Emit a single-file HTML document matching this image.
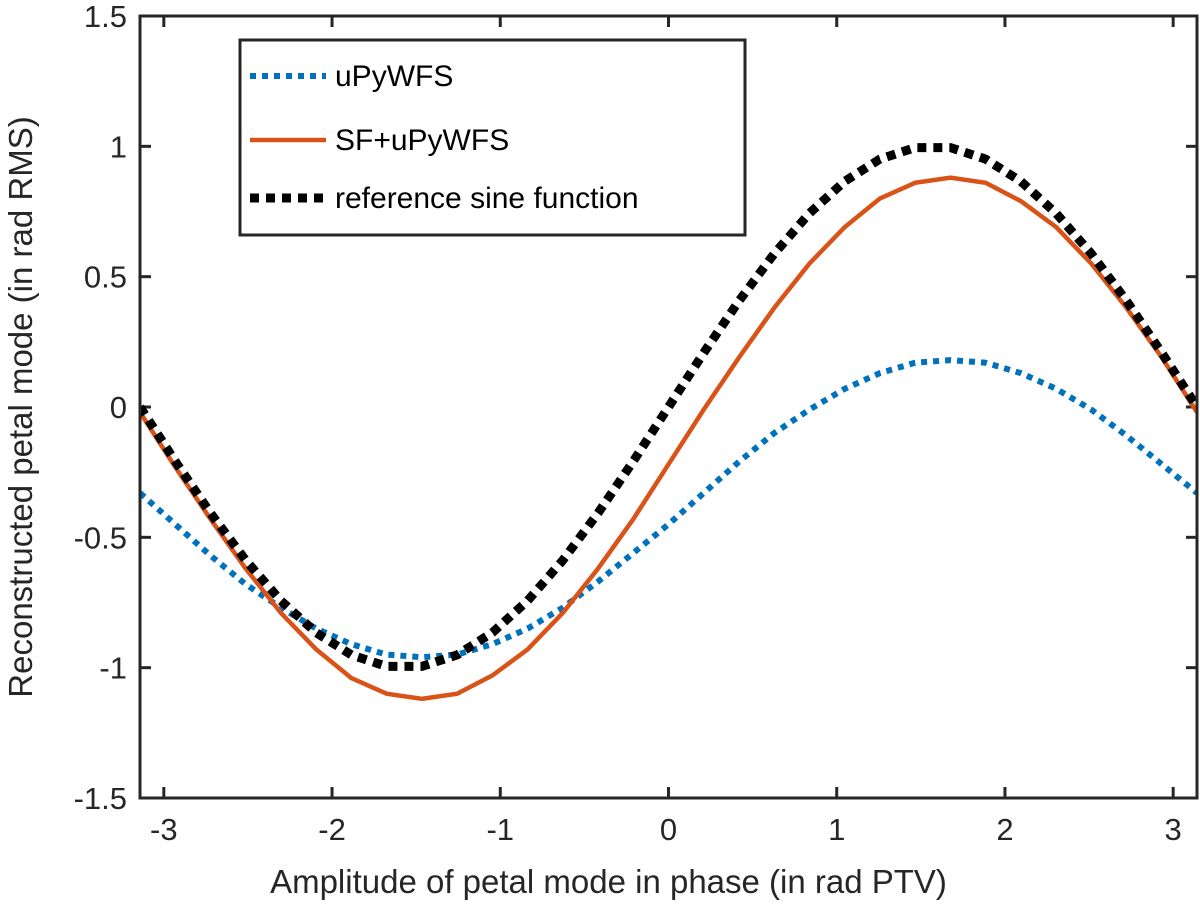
<!DOCTYPE html>
<html><head><meta charset="utf-8"><style>
body{margin:0;background:#fff;}
svg{display:block;font-family:"Liberation Sans",sans-serif;}
</style></head><body>
<svg id="chart" width="1200" height="911" xmlns="http://www.w3.org/2000/svg"></svg>
<script>
const xTicks=[-3,-2,-1,0,1,2,3];
const yTicks=[-1.5,-1,-0.5,0,0.5,1,1.5];
const yTickLabels=["-1.5","-1","-0.5","0","0.5","1","1.5"];
const xSampleIdx=[0,1,2,3,4,5,6,7,8,9,10,11,12,13,14,15,16,17,18,19,20,21,22,23,24,25,26,27,28,29,30];
const refSine=[0,-0.208,-0.407,-0.588,-0.743,-0.866,-0.951,-0.995,-0.995,-0.951,-0.866,-0.743,-0.588,-0.407,-0.208,0,0.208,0.407,0.588,0.743,0.866,0.951,0.995,0.995,0.951,0.866,0.743,0.588,0.407,0.208,0];
const sfUpy=[-0.02,-0.23,-0.43,-0.62,-0.79,-0.93,-1.04,-1.10,-1.12,-1.10,-1.03,-0.93,-0.79,-0.62,-0.43,-0.22,-0.01,0.19,0.38,0.55,0.69,0.80,0.86,0.88,0.86,0.79,0.69,0.55,0.38,0.19,-0.02];
const upy=[-0.33,-0.45,-0.57,-0.68,-0.77,-0.85,-0.91,-0.95,-0.96,-0.95,-0.91,-0.85,-0.77,-0.67,-0.56,-0.45,-0.33,-0.21,-0.10,-0.01,0.07,0.13,0.17,0.18,0.17,0.13,0.07,-0.01,-0.11,-0.22,-0.33];

const NS="http://www.w3.org/2000/svg";
const svg=document.getElementById('chart');
const L=140,R=1197,T=16,B=798;
const xMin=-Math.PI,xMax=Math.PI,yMin=-1.5,yMax=1.5;
const sx=v=>L+(v-xMin)/(xMax-xMin)*(R-L);
const sy=v=>B-(v-yMin)/(yMax-yMin)*(B-T);
const sampleX=i=>xMin+i*(xMax-xMin)/30;
function mk(tag,attrs,parent){const e=document.createElementNS(NS,tag);for(const k in attrs)e.setAttribute(k,attrs[k]);(parent||svg).appendChild(e);return e;}

const clip=mk('clipPath',{id:'clp'});mk('rect',{x:L,y:T,width:R-L,height:B-T},clip);

xTicks.forEach(t=>{
  const x=sx(t);
  const tk=mk('line',{x1:x,x2:x,y1:B,y2:B-11,stroke:'#262626','stroke-width':3});
  
  
  mk('line',{x1:x,x2:x,y1:T,y2:T+11,stroke:'#262626','stroke-width':3});
  const tx=mk('text',{x:x,y:B+42,'text-anchor':'middle','font-size':31,fill:'#262626'});
  tx.textContent=String(t);
  
  
});
yTicks.forEach((t,i)=>{
  const y=sy(t);
  const tk=mk('line',{x1:L,x2:L+11,y1:y,y2:y,stroke:'#262626','stroke-width':3});
  
  
  mk('line',{x1:R-11,x2:R,y1:y,y2:y,stroke:'#262626','stroke-width':3});
  const tx=mk('text',{x:L-13,y:y+11,'text-anchor':'end','font-size':31,fill:'#262626'});
  tx.textContent=yTickLabels[i];
  
  
});

function series(vals,color,w,dash,name){
  const pts=xSampleIdx.map(i=>sx(sampleX(i)).toFixed(1)+','+sy(vals[i]).toFixed(1)).join(' ');
  const p=mk('polyline',{points:pts,fill:'none',stroke:color,'stroke-width':w,'clip-path':'url(#clp)'});
  if(dash)p.setAttribute('stroke-dasharray',dash);
  
  
}
series(upy,'#0072BD',6,'6 6','series-upywfs');
series(sfUpy,'#D95319',4.5,null,'series-sf-upywfs');
series(refSine,'#000',9,'9 7','series-reference-sine');

const box=mk('rect',{x:L,y:T,width:R-L,height:B-T,fill:'none',stroke:'#262626','stroke-width':3});



const xl=mk('text',{x:(L+R)/2-60,y:893,'text-anchor':'middle','font-size':33,fill:'#262626'});
xl.textContent='Amplitude of petal mode in phase (in rad PTV)';


const yl=mk('text',{x:0,y:0,'text-anchor':'middle','font-size':33,fill:'#262626',transform:'translate(32,'+((T+B)/2)+') rotate(-90)'});
yl.textContent='Reconstructed petal mode (in rad RMS)';



const lg=mk('g',{});


mk('rect',{x:240,y:40,width:505,height:195,fill:'#fff',stroke:'#262626','stroke-width':3},lg);
const entries=[['uPyWFS','#0072BD',6,'6 6',76],['SF+uPyWFS','#D95319',4.5,null,140],['reference sine function','#000',9,'9 7',198]];
entries.forEach(e=>{
  const g=mk('g',{},lg);
  
  
  const ln=mk('line',{x1:250,x2:326,y1:e[4],y2:e[4],stroke:e[1],'stroke-width':e[2]},g);
  if(e[3])ln.setAttribute('stroke-dasharray',e[3]);
  const t=mk('text',{x:335,y:e[4]+10,'font-size':30,fill:'#000'},g);
  t.textContent=e[0];
});
</script>
</body></html>
